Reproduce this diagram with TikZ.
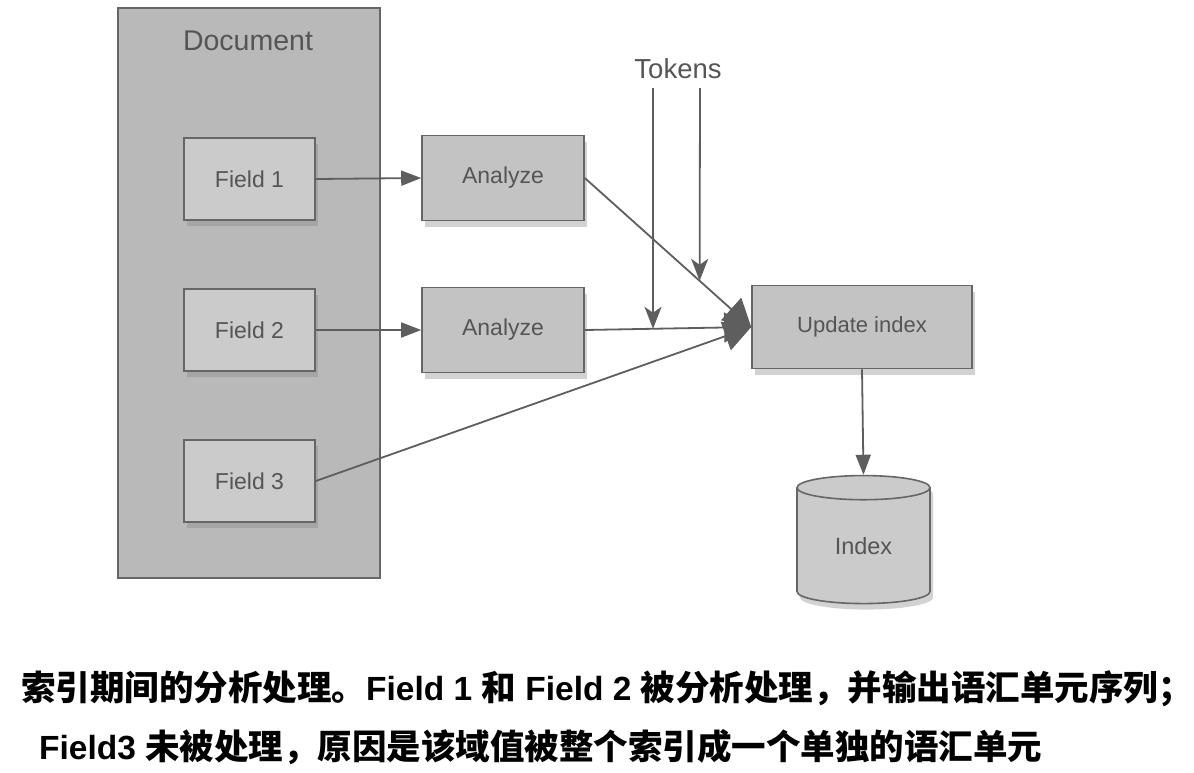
\documentclass[tikz,border=0pt]{standalone}
\usepackage{fontspec}
\setmainfont{Liberation Sans}
\newfontfamily\cjkfont{Noto Sans CJK SC}
\newcommand\cjk{\cjkfont\fontsize{34.5}{40}\selectfont}
\usetikzlibrary{shapes.geometric,arrows.meta,shadows,calc}
\definecolor{docfill}{HTML}{B9B9B9}
\definecolor{fieldfill}{HTML}{CBCBCB}
\definecolor{boxfill}{HTML}{C3C3C3}
\definecolor{edge}{HTML}{666666}
\definecolor{wire}{HTML}{5E5E5E}
\definecolor{txt}{HTML}{555555}
\tikzset{
  boxbase/.style={rectangle, draw=edge, line width=1.6pt, inner sep=0pt, text=txt,
    font=\fontsize{23}{26}\selectfont,
    drop shadow={opacity=0.35, shadow xshift=3pt, shadow yshift=-6pt}},
  fieldbox/.style={boxbase, fill=fieldfill, minimum width=131pt, minimum height=82pt},
  anbox/.style={boxbase, fill=boxfill, minimum width=162pt, minimum height=85pt},
  wirestyle/.style={draw=wire, line width=1.8pt},
  arr/.style={wirestyle, -{Triangle[length=20pt,width=15pt]}},
  bigarr/.style={wirestyle, -{Triangle[length=27pt,width=30pt]}},
  tokarr/.style={wirestyle, -{Stealth[length=22pt,width=17pt,inset=6pt]}},
  lbl/.style={text=txt, inner sep=0pt},
  captext/.style={anchor=west, inner sep=0pt, font=\fontsize{33.5}{40}\selectfont\bfseries}
}
\begin{document}
\begin{tikzpicture}[x=1pt,y=-1pt]
\useasboundingbox[fill=white] (0,0) rectangle (1194,772);
% Document container
\node[rectangle, draw=edge, line width=1.4pt, fill=docfill, minimum width=262pt, minimum height=570pt, inner sep=0pt] (doc) at (249,293) {};
\node[lbl, font=\fontsize{28.5}{32}\selectfont] (doclbl) at (248,41) {Document};
% Fields
\node[fieldbox] (f1) at (249.5,179) {Field 1};
\node[fieldbox] (f2) at (249.5,330) {Field 2};
\node[fieldbox] (f3) at (249.5,481) {Field 3};
% Analyze boxes
\node[anbox] (a1) at (503,178) {Analyze};
\node[anbox] (a2) at (503,330) {Analyze};
% Update index
\node[boxbase, fill=boxfill, minimum width=220pt, minimum height=83pt, font=\fontsize{22}{26}\selectfont] (up) at (862,327) {Update index};
% Index cylinder
\node[cylinder, shape border rotate=90, aspect=0.42, draw=edge, line width=1.6pt, fill=fieldfill, text=txt,
  minimum width=133pt, minimum height=128pt, inner sep=0pt, font=\fontsize{23.5}{26}\selectfont,
  drop shadow={opacity=0.35, shadow xshift=3pt, shadow yshift=-6pt}] (idx) at (863.5,546) {Index};
% Tokens
\node[lbl, font=\fontsize{27.5}{30}\selectfont] (tok) at (678,69) {Tokens};
\coordinate (t1s) at (653,88);
\coordinate (t2s) at (700,88);
% connectors
\draw[arr] (f1.east) -- (a1.west);
\draw[arr] (f2.east) -- (a2.west);
\draw[bigarr] (a1.east) -- (up.west);
\draw[bigarr] (f3.east) -- (up.west);
\draw[bigarr] (a2.east) -- (up.west);
\coordinate (t1e) at ($(a2.east)!0.41!(up.west)$);
\coordinate (t2e) at ($(a1.east)!0.69!(up.west)$);
\draw[tokarr] (t1s) -- (t1e);
\draw[tokarr] (t2s) -- (t2e);
\draw[arr] (up.south) -- (idx.north);
% caption
\node[captext] (c1) at (21,689) {{\cjk 索引期间的分析处理。}Field 1 {\cjk 和} Field 2 {\cjk 被分析处理，并输出语汇单元序列；}};
\node[captext] (c2) at (39,747) {Field3 {\cjk 未被处理，原因是该域值被整个索引成一个单独的语汇单元}};
\end{tikzpicture}
\end{document}
